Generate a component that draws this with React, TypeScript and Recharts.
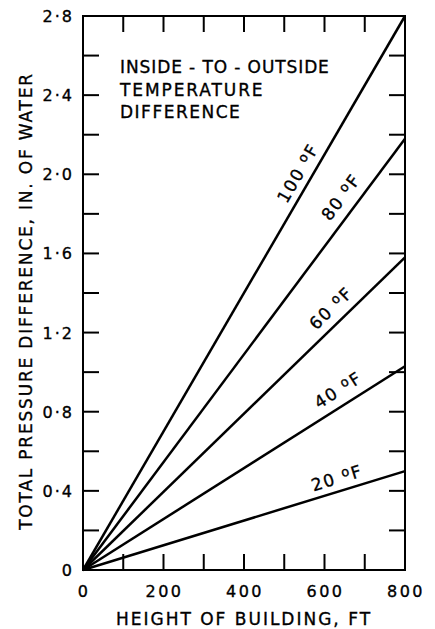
import React from 'react'
import { LineChart, Line, XAxis, YAxis, ReferenceArea, ReferenceDot } from 'recharts'

const heights = [0, 800]
const dT100 = [0, 2.8]
const dT80 = [0, 2.18]
const dT60 = [0, 1.58]
const dT40 = [0, 1.03]
const dT20 = [0, 0.5]

const seriesKeys = ['t100', 't80', 't60', 't40', 't20']
const seriesLabels = ['100', '80', '60', '40', '20']
const seriesEnds = [dT100[1], dT80[1], dT60[1], dT40[1], dT20[1]]
const labelHeights = [534, 641, 616, 634, 631]
const labelPressures = [2.006, 1.885, 1.324, 0.91, 0.465]

const xTicks = [0, 100, 200, 300, 400, 500, 600, 700, 800]
const yTicks = [0, 0.2, 0.4, 0.6, 0.8, 1.0, 1.2, 1.4, 1.6, 1.8, 2.0, 2.2, 2.4, 2.6, 2.8]
const titleLines = ['INSIDE - TO - OUTSIDE', 'TEMPERATURE', 'DIFFERENCE']
const titleSpacing = [0.9, 1.9, 1.5]

const W = 435
const H = 629
const M = { top: 16, right: 30, left: 0, bottom: 0 }
const Y_W = 83
const X_H = 59
const PLOT_W = W - M.left - M.right - Y_W
const PLOT_H = H - M.top - M.bottom - X_H
const FONT = '"DejaVu Sans", sans-serif'
const TICK_LEN = 16
// thin outline to get the heavier stencil-lettering look
const INK = { fill: '#000', stroke: '#000', strokeWidth: 0.35 }

const data = heights.map((h, i) => ({
  h,
  t100: dT100[i],
  t80: dT80[i],
  t60: dT60[i],
  t40: dT40[i],
  t20: dT20[i],
}))

const XTick = ({ x, y, payload }: any) => {
  const v = payload.value
  return (
    <g>
      <line x1={x} y1={y} x2={x} y2={y - TICK_LEN} stroke="#000" strokeWidth={2} />
      <line x1={x} y1={y - PLOT_H} x2={x} y2={y - PLOT_H + TICK_LEN} stroke="#000" strokeWidth={2} />
      {v % 200 === 0 && (
        <text x={x + 1} y={y + 27} textAnchor="middle" fontFamily={FONT} fontSize={16} letterSpacing={2.5} {...INK}>
          {v}
        </text>
      )}
    </g>
  )
}

const YTick = ({ x, y, payload }: any) => {
  const v = payload.value
  const labelled = Math.round(v * 10) % 4 === 0
  const txt = v === 0 ? '0' : v.toFixed(1).replace('.', '·')
  return (
    <g>
      <line x1={x} y1={y} x2={x + TICK_LEN} y2={y} stroke="#000" strokeWidth={2} />
      <line x1={x + PLOT_W - TICK_LEN} y1={y} x2={x + PLOT_W} y2={y} stroke="#000" strokeWidth={2} />
      {labelled && (
        <text x={x - 9} y={y + 6} textAnchor="end" fontFamily={FONT} fontSize={16} letterSpacing={2} {...INK}>
          {txt}
        </text>
      )}
    </g>
  )
}

const lineAngle = (end: number) =>
  (-Math.atan((end * PLOT_H) / 2.8 / PLOT_W) * 180) / Math.PI

export default function App() {
  return (
    <div style={{ position: 'absolute', left: 0, top: 0, width: W, height: H, background: '#fff' }}>
      <LineChart width={W} height={H} data={data} margin={M}>
        <XAxis
          dataKey="h"
          type="number"
          domain={[0, 800]}
          ticks={xTicks}
          interval={0}
          height={X_H}
          tickSize={0}
          tickMargin={0}
          axisLine={false}
          tickLine={false}
          tick={<XTick />}
          label={{
            value: 'HEIGHT OF BUILDING, FT',
            position: 'insideBottom',
            offset: 4,
            fontFamily: FONT,
            fontSize: 17,
            letterSpacing: 2.0,
            ...INK,
          }}
        />
        <YAxis
          type="number"
          domain={[0, 2.8]}
          ticks={yTicks}
          interval={0}
          width={Y_W}
          tickSize={0}
          tickMargin={0}
          axisLine={false}
          tickLine={false}
          tick={<YTick />}
          label={{
            content: ({ viewBox }: any) => {
              const cx = viewBox.x + 26
              const cy = viewBox.y + viewBox.height / 2 + 8
              return (
                <text
                  x={cx}
                  y={cy}
                  transform={`rotate(-90, ${cx}, ${cy})`}
                  textAnchor="middle"
                  dominantBaseline="central"
                  fontFamily={FONT}
                  fontSize={17}
                  letterSpacing={1.8}
                  {...INK}
                >
                  TOTAL PRESSURE DIFFERENCE, IN. OF WATER
                </text>
              )
            },
          }}
        />
        <ReferenceArea x1={0} x2={800} y1={0} y2={2.8} fill="none" fillOpacity={0} stroke="#000" strokeWidth={2} />
        {seriesKeys.map((k) => (
          <Line
            key={k}
            dataKey={k}
            type="linear"
            stroke="#000"
            strokeWidth={2.5}
            dot={false}
            isAnimationActive={false}
          />
        ))}
        {seriesLabels.map((lab, i) => (
          <ReferenceDot
            key={lab}
            x={labelHeights[i]}
            y={labelPressures[i]}
            r={0}
            shape={(p: any) => {
              const a = lineAngle(seriesEnds[i])
              return (
                <text
                  x={p.cx}
                  y={p.cy + 6}
                  transform={`rotate(${a}, ${p.cx}, ${p.cy})`}
                  textAnchor="middle"
                  fontFamily={FONT}
                  fontSize={17}
                  letterSpacing={1.6}
                  {...INK}
                >
                  <tspan>{lab} </tspan>
                  <tspan fontSize={13} dy={-5}>o</tspan>
                  <tspan dy={5}>F</tspan>
                </text>
              )
            }}
          />
        ))}
        <text fontFamily={FONT} fontSize={17} {...INK}>
          {titleLines.map((t, i) => (
            <tspan key={t} x={120} y={73 + i * 22.5} letterSpacing={titleSpacing[i]}>
              {t}
            </tspan>
          ))}
        </text>
      </LineChart>
    </div>
  )
}
